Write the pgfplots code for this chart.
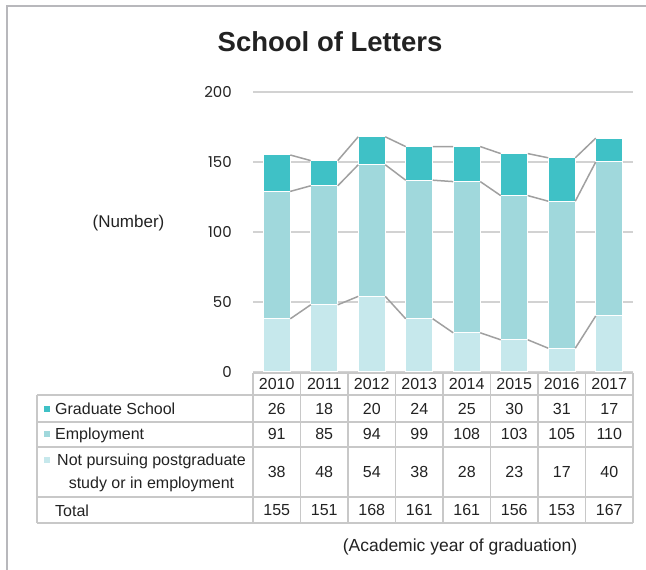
\documentclass[border=0pt]{standalone}
\usepackage{fontspec}
\setmainfont{Liberation Sans}
\newfontfamily\tickfont{Poppins}
\usepackage{pgfplots}
\pgfplotsset{compat=1.18}
\definecolor{gs}{HTML}{3FC1C6}
\definecolor{emp}{HTML}{A0D8DC}
\definecolor{np}{HTML}{C6E8EC}
\definecolor{gridc}{HTML}{D2D2D2}
\definecolor{tabc}{HTML}{C8C8C8}
\definecolor{framec}{HTML}{B8B8BC}
\definecolor{serc}{HTML}{A0A0A0}
\definecolor{txt}{HTML}{222222}
\begin{document}
\begin{tikzpicture}[x=1pt,y=1pt]
\path[use as bounding box] (0,0) rectangle (646,570);
\draw[framec, line width=2pt] (7,0) -- (7,564) -- (646,564);
\pgfplotsset{common/.style={at={(253pt,198pt)}, anchor=south west, width=380pt, height=280pt, scale only axis,
  xmin=0, xmax=8, ymin=0, ymax=200, axis line style={draw=none}, major tick length=0pt, xtick=\empty}}
\begin{axis}[common, ybar stacked, bar width=0.57,
  ytick={0,50,100,150,200}, ymajorgrids, grid style={gridc, line width=1.5pt},
  /pgf/number format/assume math mode=true,
  yticklabel style={font=\tickfont\fontsize{15}{15}\selectfont, text=txt, anchor=east, inner sep=0pt, xshift=-21pt}]
\addplot[fill=np, draw=white, line width=1pt] coordinates {(0.5,38)(1.5,48)(2.5,54)(3.5,38)(4.5,28)(5.5,23)(6.5,17)(7.5,40)};
\addplot[fill=emp, draw=white, line width=1pt] coordinates {(0.5,91)(1.5,85)(2.5,94)(3.5,99)(4.5,108)(5.5,103)(6.5,105)(7.5,110)};
\addplot[fill=gs, draw=white, line width=1pt] coordinates {(0.5,26)(1.5,18)(2.5,20)(3.5,24)(4.5,25)(5.5,30)(6.5,31)(7.5,17)};
\end{axis}
\begin{axis}[common, ytick=\empty, unbounded coords=jump]
\addplot[serc, line width=1.5pt] coordinates {(0.785,38)(1.215,48) (1.5,nan) (1.785,48)(2.215,54) (2.5,nan) (2.785,54)(3.215,38) (3.5,nan) (3.785,38)(4.215,28) (4.5,nan) (4.785,28)(5.215,23) (5.5,nan) (5.785,23)(6.215,17) (6.5,nan) (6.785,17)(7.215,40)};
\addplot[serc, line width=1.5pt] coordinates {(0.785,129)(1.215,133) (1.5,nan) (1.785,133)(2.215,148) (2.5,nan) (2.785,148)(3.215,137) (3.5,nan) (3.785,137)(4.215,136) (4.5,nan) (4.785,136)(5.215,126) (5.5,nan) (5.785,126)(6.215,122) (6.5,nan) (6.785,122)(7.215,150)};
\addplot[serc, line width=1.5pt] coordinates {(0.785,155)(1.215,151) (1.5,nan) (1.785,151)(2.215,168) (2.5,nan) (2.785,168)(3.215,161) (3.5,nan) (3.785,161)(4.215,161) (4.5,nan) (4.785,161)(5.215,156) (5.5,nan) (5.785,156)(6.215,153) (6.5,nan) (6.785,153)(7.215,167)};
\end{axis}
% title and labels
\node[anchor=base, text=txt, font=\fontsize{27.5}{30}\selectfont\bfseries] at (330,518) {School of Letters};
\node[text=txt, font=\fontsize{17}{20}\selectfont] at (128.5,347) {(Number)};
\node[text=txt, font=\fontsize{17.5}{20}\selectfont] at (460,23) {(Academic year of graduation)};
% table grid
\begin{scope}[tabc, line width=1.5pt]
\draw (253,197) -- (633,197);
\foreach \y in {175,148,123,73,47} \draw (37,\y) -- (633,\y);
\draw (37,175) -- (37,47);
\foreach \i in {0,...,8} \draw (253+47.5*\i,197) -- (253+47.5*\i,47);
\end{scope}
% legend squares
\fill[gs] (43.5,158) rectangle (49.5,164);
\fill[emp] (43.5,132.5) rectangle (49.5,138.5);
\fill[np] (43.5,106.5) rectangle (49.5,112.5);
\begin{scope}[every node/.style={text=txt, font=\fontsize{16}{19}\selectfont, inner sep=0pt}]
\node[anchor=base west] at (55,155) {Graduate School};
\node[anchor=base west] at (55,130) {Employment};
\node[anchor=base] at (151.5,104) {Not pursuing postgraduate};
\node[anchor=base] at (151.5,81) {study or in employment};
\node[anchor=base west] at (55,53) {Total};
\foreach \v [count=\i from 0] in {2010,2011,2012,2013,2014,2015,2016,2017} \node[anchor=base] at (276.75+47.5*\i,180) {\v};
\foreach \v [count=\i from 0] in {26,18,20,24,25,30,31,17} \node[anchor=base] at (276.75+47.5*\i,155.5) {\v};
\foreach \v [count=\i from 0] in {91,85,94,99,108,103,105,110} \node[anchor=base] at (276.75+47.5*\i,130) {\v};
\foreach \v [count=\i from 0] in {38,48,54,38,28,23,17,40} \node[anchor=base] at (276.75+47.5*\i,92.5) {\v};
\foreach \v [count=\i from 0] in {155,151,168,161,161,156,153,167} \node[anchor=base] at (276.75+47.5*\i,54) {\v};
\end{scope}
\end{tikzpicture}
\end{document}
